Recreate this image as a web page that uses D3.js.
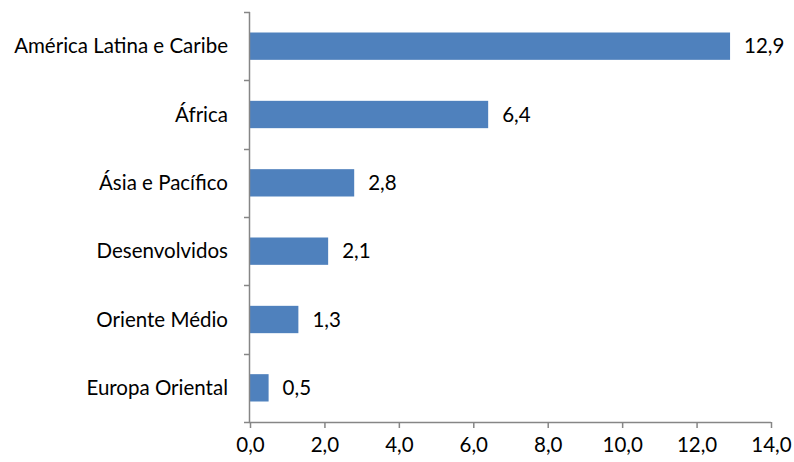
<!DOCTYPE html>
<html>
<head>
<meta charset="utf-8">
<script src="https://cdn.jsdelivr.net/npm/d3@7"></script>
<style>
  html, body { margin: 0; padding: 0; background: #fff; }
  svg { display: block; }
  text { font-family: Lato, "Open Sans", "Liberation Sans", sans-serif; fill: #000; }
</style>
</head>
<body>
<svg id="chart" width="794" height="462"></svg>
<script>
// Regions, top to bottom
const categories = [
  "América Latina e Caribe",
  "África",
  "Ásia e Pacífico",
  "Desenvolvidos",
  "Oriente Médio",
  "Europa Oriental"
];
const values = [12.9, 6.4, 2.8, 2.1, 1.3, 0.5];
const xTicks = [0, 2, 4, 6, 8, 10, 12, 14];

const fmt = v => d3.format(".1f")(v).replace(".", ",");

const svg = d3.select("#chart");
const plotLeft = 250, plotRight = 771, plotTop = 12, plotBottom = 422;
const axisColor = "#868686";
const barColor = "#4F81BD";
const fontSize = 20.5;

const x = d3.scaleLinear().domain([0, 14]).range([plotLeft, plotRight]);
const y = d3.scaleBand().domain(categories).range([plotTop, plotBottom]).paddingInner(0.6).paddingOuter(0.3);

// Bars
svg.append("g").selectAll("rect")
  .data(values)
  .join("rect")
  .attr("x", x(0))
  .attr("y", (d, i) => y(categories[i]))
  .attr("width", d => x(d) - x(0))
  .attr("height", y.bandwidth())
  .attr("fill", barColor);

// Value labels
svg.append("g").selectAll("text")
  .data(values)
  .join("text")
  .attr("x", d => x(d) + 14)
  .attr("y", (d, i) => y(categories[i]) + y.bandwidth() / 2)
  .attr("dy", "0.35em")
  .attr("font-size", fontSize)
  .text(d => fmt(d));

// Category axis (left)
const step = (plotBottom - plotTop) / categories.length;
const yAxis = svg.append("g");
yAxis.append("line")
  .attr("x1", plotLeft - 0.5).attr("x2", plotLeft - 0.5)
  .attr("y1", plotTop).attr("y2", plotBottom)
  .attr("stroke", axisColor).attr("stroke-width", 1.5);
yAxis.selectAll("line.tick")
  .data(d3.range(categories.length + 1))
  .join("line")
  .attr("class", "tick")
  .attr("x1", plotLeft - 6).attr("x2", plotLeft)
  .attr("y1", i => Math.round(plotTop + i * step) + 0.5)
  .attr("y2", i => Math.round(plotTop + i * step) + 0.5)
  .attr("stroke", axisColor).attr("stroke-width", 1.5);
yAxis.selectAll("text")
  .data(categories)
  .join("text")
  .attr("x", 228)
  .attr("y", d => y(d) + y.bandwidth() / 2)
  .attr("dy", "0.35em")
  .attr("text-anchor", "end")
  .attr("font-size", fontSize)
  .text(d => d);

// Value axis (bottom)
const xAxis = svg.append("g").attr("transform", `translate(0,${plotBottom})`)
  .call(d3.axisBottom(x).tickValues(xTicks).tickFormat(fmt).tickSize(6).tickPadding(9));
xAxis.select(".domain").attr("stroke", axisColor).attr("stroke-width", 1.5)
  .attr("d", `M${plotLeft - 0.5},0.5H${plotRight}`);
xAxis.selectAll(".tick line").attr("stroke", axisColor).attr("stroke-width", 1.5);
xAxis.selectAll(".tick text")
  .attr("font-size", fontSize)
  .attr("font-family", null)
  .attr("fill", "#000");
</script>
</body>
</html>
